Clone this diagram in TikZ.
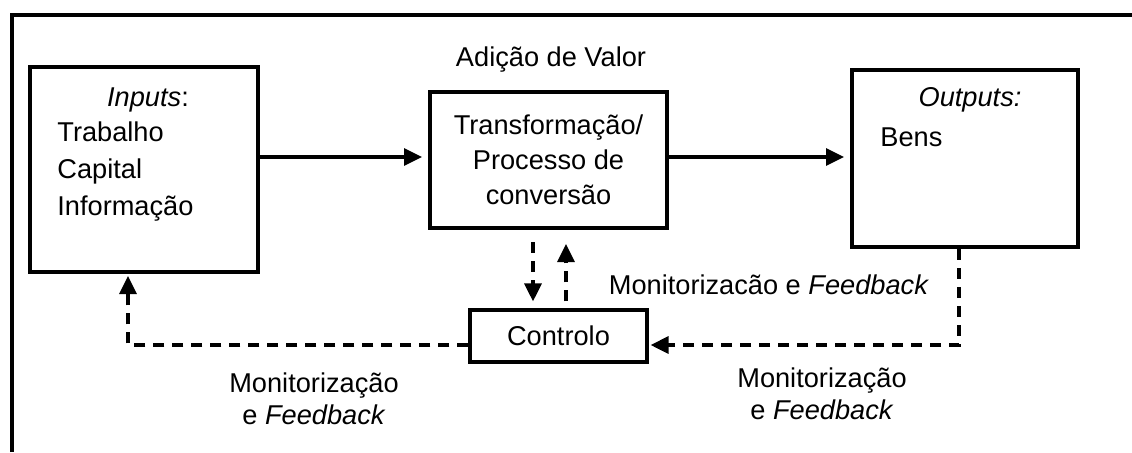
\documentclass[tikz,border=0pt]{standalone}
\usepackage{fontspec}
\setmainfont{Liberation Sans}
\usetikzlibrary{arrows.meta}

\begin{document}
\begin{tikzpicture}[x=0.5pt, y=-0.5pt,
  box/.style={draw, line width=2pt, inner sep=0pt},
  ctrlbox/.style={draw, line width=1.6pt, inner sep=0pt},
  txt/.style={inner sep=0pt, font=\fontsize{13.6}{17.5}\selectfont},
  flow/.style={line width=1.6pt, shorten >=3pt, -{Triangle[length=9pt,width=8.5pt]}},
  fb/.style={flow, dash pattern=on 5.5pt off 4pt}]
  \useasboundingbox (0,0) rectangle (1132,452);
  % moldura
  \draw[line width=2pt] (11.5,452) -- (11.5,14.5) -- (1132,14.5);

  \node[box, minimum width=114pt, minimum height=102.5pt] (inp) at (144,169.5) {};
  \node[box, txt, draw, line width=2pt, align=center, minimum width=118.5pt, minimum height=68pt] (trf) at (548.5,160)
    {Transformação/\\Processo de\\conversão};
  \node[box, minimum width=113pt, minimum height=88.5pt] (out) at (965,158.5) {};
  \node[ctrlbox, txt, draw, line width=1.6pt, minimum width=88.5pt, minimum height=26pt] (ctl) at (558.5,336) {Controlo};

  \node[txt] (inpHead) at (148,100) {\textit{Inputs}:};
  \node[txt, align=left, anchor=west, font=\fontsize{13.6}{18.5}\selectfont] (inpList) at (57,172)
    {Trabalho\\Capital\\Informação};
  \node[txt] (outHead) at (970,100) {\textit{Outputs:}};
  \node[txt, anchor=west] (outList) at (880,137) {Bens};
  \node[txt] (addVal) at (551,60) {Adição de Valor};
  \node[txt] (fbMid) at (769,285) {Monitorizacão e \textit{Feedback}};
  \node[txt, align=center, font=\fontsize{13.6}{16}\selectfont] (fbLeft) at (314,399)
    {Monitorização\\e \textit{Feedback}};
  \node[txt, align=center, font=\fontsize{13.6}{16}\selectfont] (fbRight) at (822,394)
    {Monitorização\\e \textit{Feedback}};

  \coordinate (fy) at (0,157);
  \coordinate (dnx) at (533,0);
  \coordinate (upx) at (566,0);
  \coordinate (rc) at (959,345);
  \coordinate (lc) at (128,345);

  \draw[flow] (inp.east |- fy) -- (trf.west |- fy);
  \draw[flow] (trf.east |- fy) -- (out.west |- fy);
  \draw[fb, shorten <=6pt, shorten >=3.5pt] (trf.south -| dnx) -- (ctl.north -| dnx);
  \draw[fb, shorten <=3.5pt, shorten >=7pt] (ctl.north -| upx) -- (trf.south -| upx);
  \draw[fb, shorten >=1pt] (out.south -| rc) -- (rc) -- (ctl.east |- rc);
  \draw[fb, shorten >=1pt] (ctl.west |- lc) -- (lc) -- (inp.south -| lc);
\end{tikzpicture}
\end{document}
